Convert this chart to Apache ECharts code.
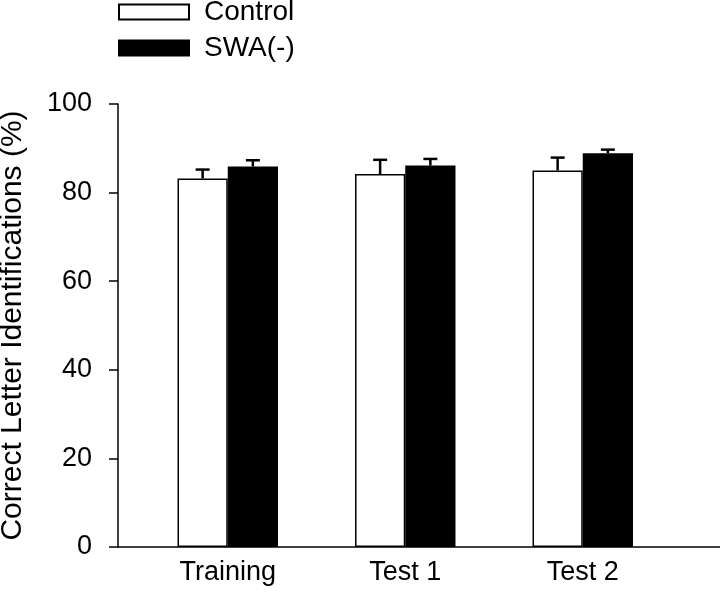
<!DOCTYPE html>
<html>
<head>
<meta charset="utf-8">
<script src="https://cdn.jsdelivr.net/npm/echarts@6/dist/echarts.min.js"></script>
<style>html,body{margin:0;padding:0;background:#fff}#c{width:720px;height:593px}</style>
</head>
<body>
<div id="c"></div>
<script>
const categories = ['Training', 'Test 1', 'Test 2'];
const seriesNames = ['Control', 'SWA(-)'];
const controlMean = [83.2, 84.2, 85.0];
const controlErr = [2.0, 3.2, 2.9];
const swaMean = [85.9, 86.1, 88.9];
const swaErr = [1.4, 1.5, 0.8];
const yTicks = [0, 20, 40, 60, 80, 100];

const FONT = "'Liberation Sans', Arial, sans-serif";
const BAR_FRAC = 0.283;

function errSeries(name, means, errs, sign) {
  return {
    type: 'custom',
    name: name + ' err',
    xAxisIndex: 0, yAxisIndex: 0,
    z: 5,
    silent: true,
    data: means.map((m, i) => [i, m, errs[i]]),
    renderItem: function (params, api) {
      const i = api.value(0), m = api.value(1), e = api.value(2);
      const bw = api.size([1, 0])[0];
      const off = sign * bw * BAR_FRAC / 2;
      const p0 = api.coord([i, m]);
      const p1 = api.coord([i, m + e]);
      const x = p0[0] + off;
      const cap = 7;
      const st = { stroke: '#000', lineWidth: 2.5 };
      return {
        type: 'group',
        children: [
          { type: 'line', shape: { x1: x, y1: p0[1], x2: x, y2: p1[1] }, style: st },
          { type: 'line', shape: { x1: x - cap, y1: p1[1], x2: x + cap, y2: p1[1] }, style: st }
        ]
      };
    }
  };
}

const chart = echarts.init(document.getElementById('c'), null, { renderer: 'canvas' });
chart.setOption({
  animation: false,
  backgroundColor: '#fff',
  textStyle: { fontFamily: FONT, color: '#000' },
  legend: {
    orient: 'vertical',
    left: 118, top: -2,
    padding: 0,
    itemWidth: 70, itemHeight: 15,
    itemGap: 8,
    icon: 'rect',
    data: seriesNames,
    textStyle: { fontFamily: FONT, fontSize: 28, color: '#000', padding: [0, 0, 0, 10] }
  },
  grid: [
    { left: 139, right: 48.5, top: 104, bottom: 46, containLabel: false, outerBoundsMode: 'none' },
    { left: 118, right: 0, top: 104, bottom: 46, containLabel: false, outerBoundsMode: 'none' }
  ],
  xAxis: [
    {
      type: 'category', gridIndex: 0, data: categories,
      axisLine: { show: false }, axisTick: { show: false },
      axisLabel: { fontFamily: FONT, fontSize: 27, color: '#000', margin: 12 }
    },
    {
      type: 'value', gridIndex: 1, min: 0, max: 1,
      axisLine: { show: true, onZero: false, lineStyle: { color: '#000', width: 1.5 } },
      axisTick: { show: false }, axisLabel: { show: false }, splitLine: { show: false }
    }
  ],
  yAxis: [
    { type: 'value', gridIndex: 0, min: 0, max: 100, show: false },
    {
      type: 'value', gridIndex: 1, min: yTicks[0], max: yTicks[yTicks.length - 1], interval: 20,
      name: 'Correct Letter Identifications (%)',
      nameLocation: 'middle', nameGap: 90,
      nameTextStyle: { fontFamily: FONT, fontSize: 30, color: '#000' },
      axisLine: { show: true, lineStyle: { color: '#000', width: 1.5 } },
      axisTick: { show: true, inside: false, length: 9, lineStyle: { color: '#000', width: 1.5 } },
      axisLabel: { fontFamily: FONT, fontSize: 27, color: '#000', margin: 26 },
      splitLine: { show: false }
    }
  ],
  series: [
    {
      type: 'bar', name: seriesNames[0], xAxisIndex: 0, yAxisIndex: 0,
      data: controlMean, barWidth: (BAR_FRAC * 100) + '%', barGap: '0%',
      itemStyle: { color: '#fff', borderColor: '#000', borderWidth: 1.5 }
    },
    {
      type: 'bar', name: seriesNames[1], xAxisIndex: 0, yAxisIndex: 0,
      data: swaMean, barWidth: (BAR_FRAC * 100) + '%', barGap: '0%',
      itemStyle: { color: '#000', borderColor: '#000', borderWidth: 1.5 }
    },
    errSeries(seriesNames[0], controlMean, controlErr, -1),
    errSeries(seriesNames[1], swaMean, swaErr, 1)
  ]
});
</script>
</body>
</html>
